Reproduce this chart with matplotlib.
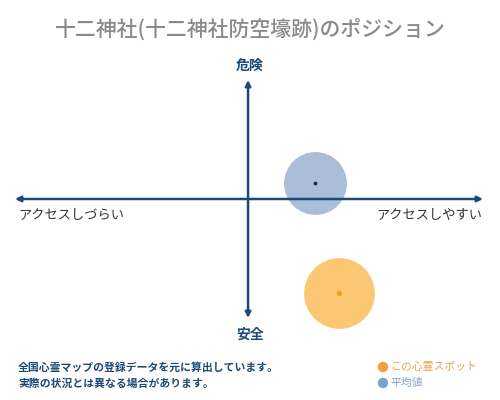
import matplotlib
matplotlib.use("Agg")
import matplotlib.pyplot as plt

plt.rcParams['font.family'] = ['Noto Sans CJK JP', 'DejaVu Sans']

title = "十二神社(十二神社防空壕跡)のポジション"
label_top = "危険"
label_bottom = "安全"
label_left = "アクセスしづらい"
label_right = "アクセスしやすい"
footer_lines = ["全国心霊マップの登録データを元に算出しています。", "実際の状況とは異なる場合があります。"]
legend_labels = ["この心霊スポット", "平均値"]

# positions on the access (x) / danger (y) plane, range -1..1
spot_x = [0.385]
spot_y = [-0.79]
avg_x = [0.28]
avg_y = [0.134]

navy = "#1c4a78"
orange = "#fcc46a"
orange_dot = "#f0a020"
blue = "#a6bbd5"

fig = plt.figure(figsize=(5, 4), dpi=100)
fig.patch.set_facecolor("white")
ax = fig.add_axes([0.03, 0.205, 0.936, 0.595])
ax.set_xlim(-1, 1)
ax.set_ylim(-1, 1)
ax.axis("off")

arrow = dict(arrowstyle="<|-|>", color=navy, lw=1.8, mutation_scale=8, shrinkA=0, shrinkB=0)
ax.annotate("", xy=(1, 0), xytext=(-1, 0), arrowprops=arrow, zorder=3)
ax.annotate("", xy=(-0.004, 1), xytext=(-0.004, -1), arrowprops=arrow, zorder=3)

ax.scatter(avg_x, avg_y, s=2050, color=blue, alpha=0.95, linewidths=0, zorder=2, clip_on=False)
ax.scatter(avg_x, avg_y, s=3, color="#1a2a3a", zorder=4, clip_on=False)
ax.scatter(spot_x, spot_y, s=2600, color=orange, alpha=0.95, linewidths=0, zorder=2, clip_on=False)
ax.scatter(spot_x, spot_y, s=8, color=orange_dot, zorder=4, clip_on=False)

fig.text(0.5, 1 - 30/400, title, ha="center", va="center", fontsize=15, color="#8a8a8a", fontweight="medium")
fig.text(0.5, 1 - 66/400, label_top, ha="center", va="center", fontsize=10, color=navy, fontweight="bold")
fig.text(0.5, 1 - 335/400, label_bottom, ha="center", va="center", fontsize=10, color=navy, fontweight="bold")
fig.text(18/500, 1 - 215/400, label_left, ha="left", va="center", fontsize=9.5, color="#333333")
fig.text(482/500, 1 - 215/400, label_right, ha="right", va="center", fontsize=9.5, color="#333333")

fig.text(18/500, 1 - 368/400, footer_lines[0], ha="left", va="center", fontsize=7.8, color=navy, fontweight="bold")
fig.text(18/500, 1 - 384/400, footer_lines[1], ha="left", va="center", fontsize=7.8, color=navy, fontweight="bold")

fig.patches.append(matplotlib.patches.Ellipse((383/500, 1 - 367/400), 9/500, 9/400, transform=fig.transFigure,
                                              color="#f0a040", figure=fig))
fig.patches.append(matplotlib.patches.Ellipse((383/500, 1 - 383/400), 9/500, 9/400, transform=fig.transFigure,
                                              color="#7fa3c8", figure=fig))
fig.text(390/500, 1 - 367/400, legend_labels[0], ha="left", va="center", fontsize=7.8, color="#e8a050")
fig.text(390/500, 1 - 383/400, legend_labels[1], ha="left", va="center", fontsize=7.8, color="#7fa3c8")

fig.savefig("out.png", dpi=100)
